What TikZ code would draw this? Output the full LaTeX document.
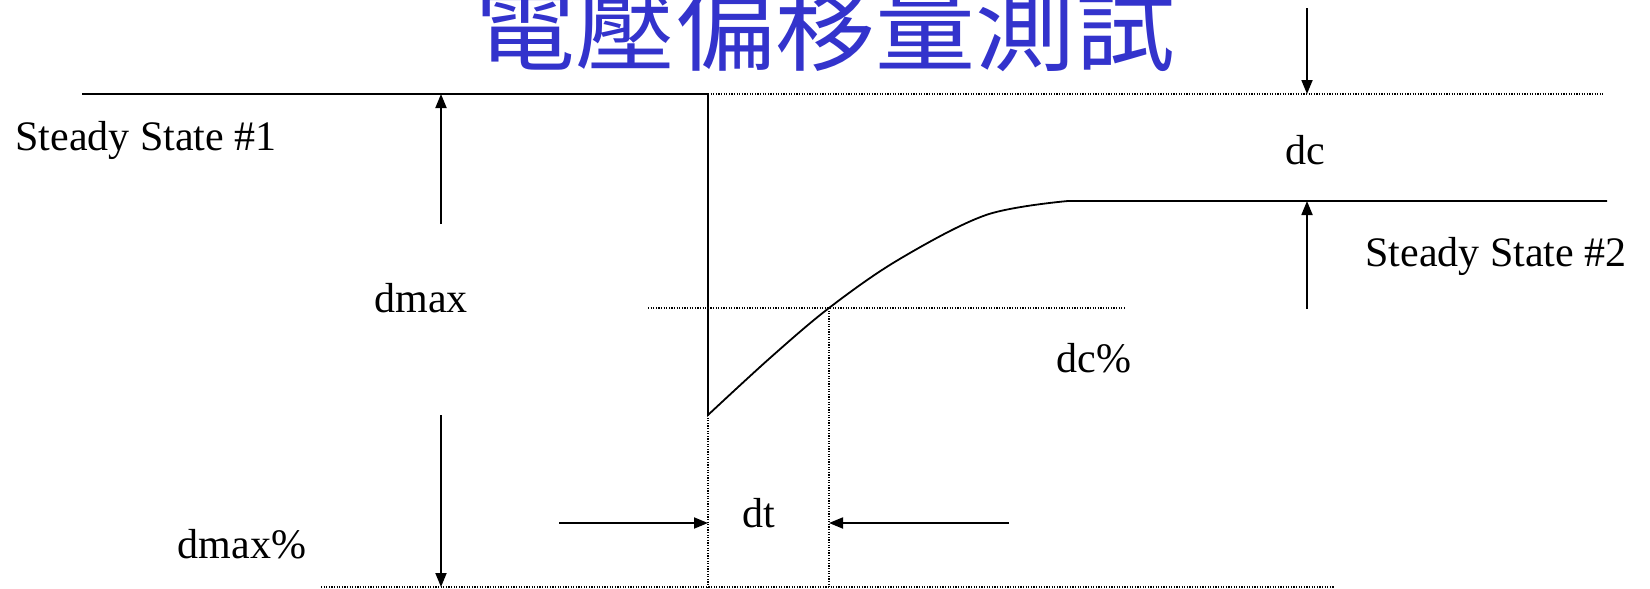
\documentclass[tikz,border=0pt]{standalone}
\usepackage{fontspec}
\setmainfont{Liberation Serif}
\newfontfamily\cjkfont{Noto Sans CJK TC}
\usetikzlibrary{arrows.meta}
\definecolor{titleblue}{RGB}{51,51,204}
\tikzset{
  solidline/.style={line width=1.8pt, line join=miter},
  dotline/.style={line width=1.3pt, dash pattern=on 1.2pt off 1.4pt},
  dimarrow/.style={line width=1.8pt, -{Triangle[length=14pt,width=11pt]}},
  lbl/.style={font=\fontsize{42}{50}\selectfont, inner sep=0pt},
  titlelbl/.style={font=\cjkfont\fontsize{100}{110}\selectfont, text=titleblue, inner sep=0pt}
}
\begin{document}
\begin{tikzpicture}[x=1pt,y=-1pt]
\useasboundingbox (0,0) rectangle (1650,589);
\clip (0,0) rectangle (1650,589);
\fill[white] (0,0) rectangle (1650,589);
% title
\node[titlelbl] (title) at (825,25) {電壓偏移量測試};
% key points
\coordinate (ssL) at (82,94);
\coordinate (drop) at (708,94);
\coordinate (bot) at (708,415);
\coordinate (ssR) at (1607,201);
\coordinate (topDotR) at (1603,94);
\coordinate (midDotL) at (648,308);
\coordinate (midDotR) at (1126,308);
\coordinate (cross) at (829,308);
\coordinate (botDotL) at (321,587);
\coordinate (botDotR) at (1334,587);
\coordinate (botA) at (708,587);
\coordinate (botB) at (829,587);
% dimension arrow coordinates
\coordinate (dcTopS) at (1307,8);
\coordinate (dcTopE) at (1307,94);
\coordinate (dcBotS) at (1307,309);
\coordinate (dcBotE) at (1307,201);
\coordinate (dmaxUS) at (441,224);
\coordinate (dmaxUE) at (441,94);
\coordinate (dmaxDS) at (441,415);
\coordinate (dmaxDE) at (441,587);
\coordinate (dtLS) at (559,523);
\coordinate (dtLE) at (708,523);
\coordinate (dtRS) at (1009,523);
\coordinate (dtRE) at (829,523);
% dotted reference lines
\draw[dotline] (drop) -- (topDotR);
\draw[dotline] (midDotL) -- (midDotR);
\draw[dotline] (botDotL) -- (botDotR);
\draw[dotline] (bot) -- (botA);
\draw[dotline] (cross) -- (botB);
% response curve
\draw[solidline] (ssL) -- (drop) -- (bot)
  -- plot[smooth, tension=0.55] coordinates {(708,415) (770,358) (829,308) (898,260) (986,215) (1068,201)}
  -- (ssR);
% dimension arrows
\draw[dimarrow] (dcTopS) -- (dcTopE);
\draw[dimarrow] (dcBotS) -- (dcBotE);
\draw[dimarrow] (dmaxUS) -- (dmaxUE);
\draw[dimarrow] (dmaxDS) -- (dmaxDE);
\draw[dimarrow] (dtLS) -- (dtLE);
\draw[dimarrow] (dtRS) -- (dtRE);
% labels
\node[lbl] (ss1) at (146,140) {Steady State \#1};
\node[lbl] (ss2) at (1496,256) {Steady State \#2};
\node[lbl] (dc) at (1305,150) {dc};
\node[lbl] (dmax) at (421,298) {dmax};
\node[lbl] (dcp) at (1094,358) {dc\%};
\node[lbl] (dmaxp) at (242,544) {dmax\%};
\node[lbl] (dt) at (759,513) {dt};
\end{tikzpicture}
\end{document}
